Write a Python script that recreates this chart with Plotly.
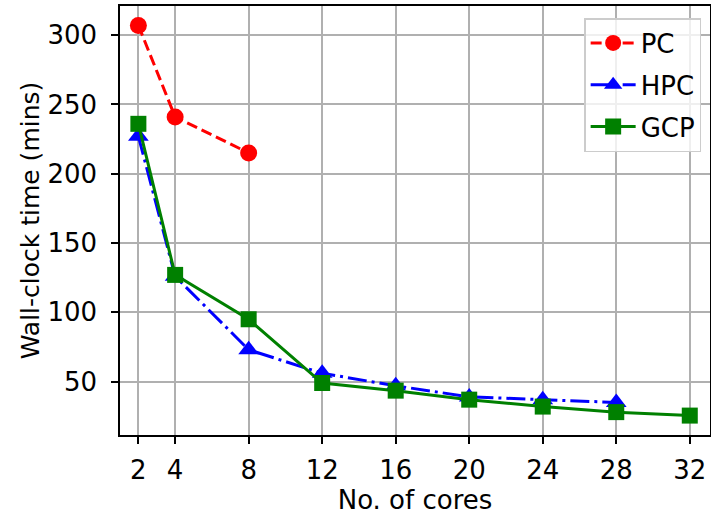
import plotly.graph_objects as go

pc_cores = [2, 4, 8]
pc_time = [307, 241, 215]
hpc_cores = [2, 4, 8, 12, 16, 20, 24, 28]
hpc_time = [227, 126, 73, 56, 47, 39, 37, 35]
gcp_cores = [2, 4, 8, 12, 16, 20, 24, 28, 32]
gcp_time = [236, 127, 95, 49, 43.5, 37, 32, 28, 25.5]
x_ticks = [2, 4, 8, 12, 16, 20, 24, 28, 32]
y_ticks = [50, 100, 150, 200, 250, 300]

FONT = "DejaVu Sans"
FS = 26
fig = go.Figure()
fig.add_trace(go.Scatter(x=pc_cores, y=pc_time, name="PC", mode="lines+markers", legendgroup="a",
                         line=dict(color="red", width=3, dash="11px,5px"),
                         marker=dict(symbol="circle", size=17, color="red")))
fig.add_trace(go.Scatter(x=hpc_cores, y=hpc_time, name="HPC", mode="lines+markers", legendgroup="b",
                         line=dict(color="blue", width=3, dash="19px,5px,3px,5px"),
                         marker=dict(symbol="triangle-up", size=18, color="blue")))
fig.add_trace(go.Scatter(x=gcp_cores, y=gcp_time, name="GCP", mode="lines+markers", legendgroup="c",
                         line=dict(color="green", width=3),
                         marker=dict(symbol="square", size=16, color="green")))

axis_common = dict(showline=True, linecolor="black", linewidth=1.5, mirror=True,
                   ticks="outside", ticklen=7, tickwidth=1.5, tickcolor="black",
                   showgrid=True, gridcolor="#b0b0b0", gridwidth=1.5, zeroline=False,
                   automargin=False,
                   tickfont=dict(family=FONT, size=FS, color="black"))
fig.update_layout(
    width=711, height=515, template="none",
    paper_bgcolor="white", plot_bgcolor="white",
    margin=dict(l=120, r=1, t=6, b=80, autoexpand=False),
    font=dict(family=FONT, size=FS, color="black"),
    xaxis=dict(range=[1, 33.1], tickvals=x_ticks, ticklabelstandoff=4,
               title=dict(text="No. of cores", font=dict(family=FONT, size=FS)),
               **axis_common),
    yaxis=dict(range=[11.5, 321], tickvals=y_ticks, ticklabelstandoff=9,
               title=dict(text="Wall-clock time (mins)", font=dict(family=FONT, size=FS - 1)),
               **axis_common),
    legend=dict(x=0.985, y=0.972, xanchor="right", yanchor="top",
                bgcolor="rgba(255,255,255,0.8)", bordercolor="#cccccc", borderwidth=1.5,
                tracegroupgap=5, itemwidth=45,
                font=dict(family=FONT, size=FS)),
    showlegend=True,
)
fig.write_html("out.html", config={"displayModeBar": False},
               post_script="document.body.style.margin='0';")
